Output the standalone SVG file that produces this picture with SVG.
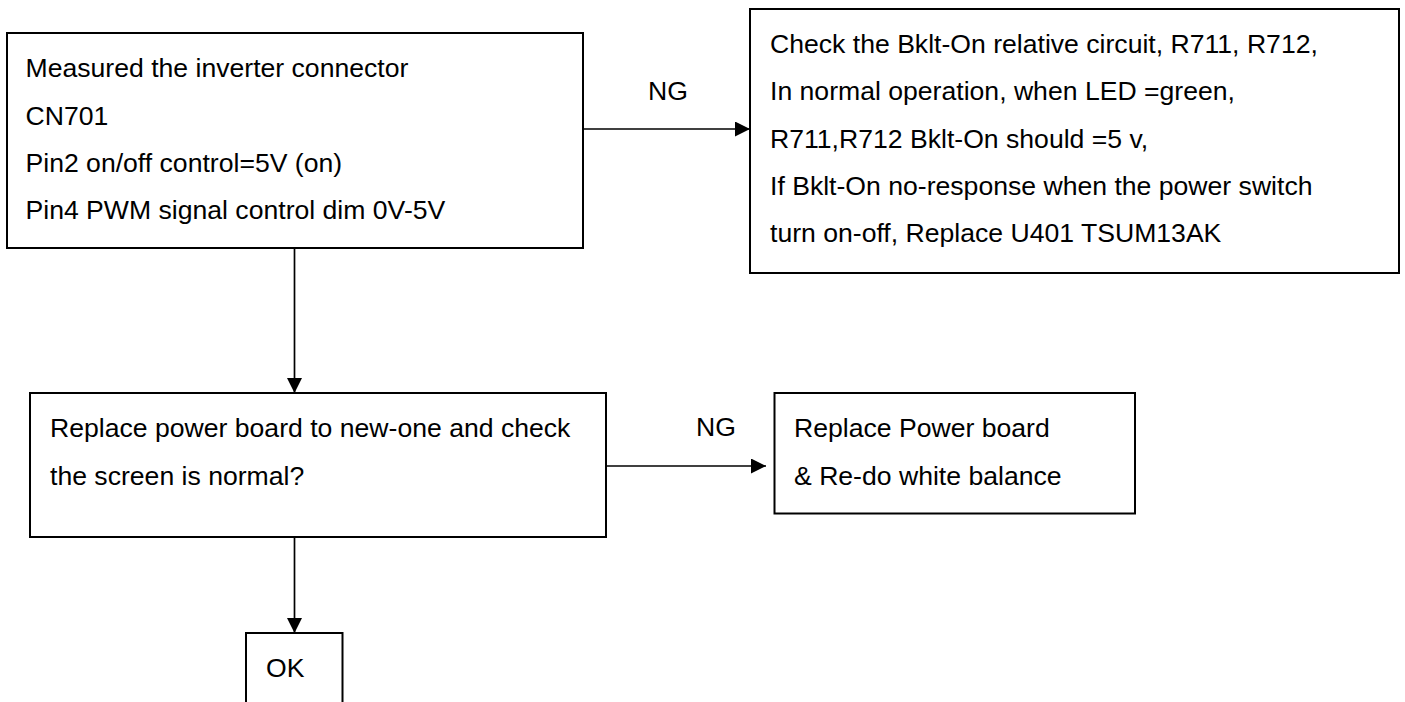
<svg xmlns="http://www.w3.org/2000/svg" width="1405" height="702" viewBox="0 0 1405 702">
<style>
.box{fill:#fff;stroke:#000;stroke-width:2}
.t{font-family:"Liberation Sans",Arial,sans-serif;font-size:26.6px;fill:#000}
.c{stroke:#000;stroke-width:1.7;fill:none}
</style>
<defs>
<marker id="ah" markerUnits="userSpaceOnUse" markerWidth="16" markerHeight="15" refX="15" refY="7.5" orient="auto">
<path d="M0,0 L15,7.5 L0,15 Z" fill="#000"/>
</marker>
</defs>
<rect width="1405" height="702" fill="#fff"/>
<g id="connectors">
<line class="c" x1="583" y1="129" x2="750" y2="129" marker-end="url(#ah)"/>
<line class="c" x1="294.5" y1="248" x2="294.5" y2="393" marker-end="url(#ah)"/>
<line class="c" x1="606" y1="466" x2="766" y2="466" marker-end="url(#ah)"/>
<line class="c" x1="294.5" y1="537" x2="294.5" y2="633" marker-end="url(#ah)"/>
<text class="t" x="648" y="100">NG</text>
<text class="t" x="696" y="436">NG</text>
</g>
<g id="n1">
<rect class="box" x="7" y="33" width="576" height="215"/>
<text class="t" x="25.5" y="77">Measured the inverter connector</text>
<text class="t" x="25.5" y="124.5">CN701</text>
<text class="t" x="25.5" y="172">Pin2 on/off control=5V (on)</text>
<text class="t" x="25.5" y="219">Pin4 PWM signal control dim 0V-5V</text>
</g>
<g id="n2">
<rect class="box" x="750" y="9" width="649" height="264"/>
<text class="t" x="770" y="53">Check the Bklt-On relative circuit, R711, R712,</text>
<text class="t" x="770" y="100.3">In normal operation, when LED =green,</text>
<text class="t" x="770" y="147.6">R711,R712 Bklt-On should =5 v,</text>
<text class="t" x="770" y="194.9">If Bklt-On no-response when the power switch</text>
<text class="t" x="770" y="242.2">turn on-off, Replace U401 TSUM13AK</text>
</g>
<g id="n3">
<rect class="box" x="30" y="393" width="576" height="144"/>
<text class="t" x="50" y="437">Replace power board to new-one and check</text>
<text class="t" x="50" y="485">the screen is normal?</text>
</g>
<g id="n4">
<rect class="box" x="774.5" y="393" width="360.5" height="120.5"/>
<text class="t" x="794" y="437">Replace Power board</text>
<text class="t" x="794" y="485">&amp; Re-do white balance</text>
</g>
<g id="n5">
<rect class="box" x="246" y="633" width="96.5" height="90"/>
<text class="t" x="266" y="677">OK</text>
</g>
</svg>
